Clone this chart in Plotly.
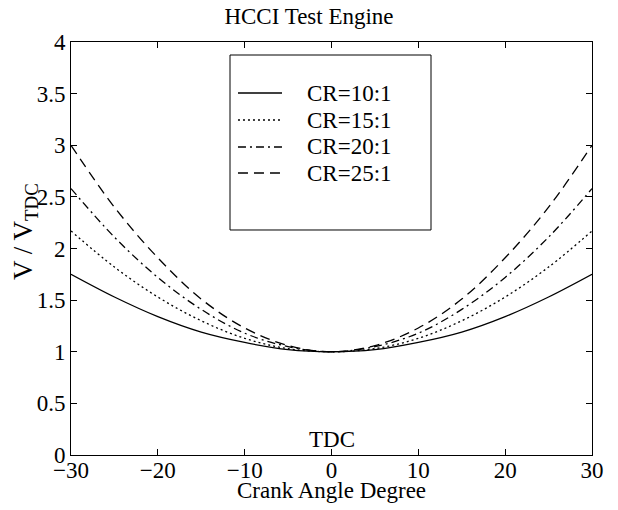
import plotly.graph_objects as go

# Crank angle (degrees relative to TDC)
crank_angle = [-30, -25, -20, -15, -10, -5, 0, 5, 10, 15, 20, 25, 30]

# Cylinder volume normalised by TDC volume, one list per compression ratio
v_cr10 = [1.75, 1.53, 1.34, 1.19, 1.09, 1.02, 1.00, 1.02, 1.09, 1.19, 1.34, 1.53, 1.75]
v_cr15 = [2.17, 1.82, 1.53, 1.30, 1.13, 1.03, 1.00, 1.03, 1.13, 1.30, 1.53, 1.82, 2.17]
v_cr20 = [2.58, 2.11, 1.72, 1.41, 1.18, 1.05, 1.00, 1.05, 1.18, 1.41, 1.72, 2.11, 2.58]
v_cr25 = [3.00, 2.40, 1.91, 1.51, 1.23, 1.06, 1.00, 1.06, 1.23, 1.51, 1.91, 2.40, 3.00]

series_names = ["CR=10:1", "CR=15:1", "CR=20:1", "CR=25:1"]
series_values = [v_cr10, v_cr15, v_cr20, v_cr25]
dash_styles = ["solid", "2px,3px", "8px,4px,2px,4px", "10px,6px"]

x_ticks = [-30, -20, -10, 0, 10, 20, 30]
y_ticks = [0, 0.5, 1, 1.5, 2, 2.5, 3, 3.5, 4]
y_tick_text = ["0", "0.5", "1", "1.5", "2", "2.5", "3", "3.5", "4"]

FONT = "Liberation Serif, Times New Roman, serif"

fig = go.Figure()
for name, vals, dash in zip(series_names, series_values, dash_styles):
    fig.add_trace(go.Scatter(
        x=crank_angle, y=vals, name=name, mode="lines", showlegend=False,
        line=dict(color="black", width=1.3, dash=dash, shape="spline", smoothing=1.0),
    ))

# "TDC" marker text just above the crank-angle axis at 0 degrees
fig.add_annotation(
    x=0, y=0, xref="x", yref="y", text="TDC", showarrow=False,
    yanchor="bottom", yshift=1, font=dict(family=FONT, size=23, color="black"),
)

# x-axis title placed directly under the tick labels
fig.add_annotation(
    x=0.5, y=0, xref="paper", yref="paper", text="Crank Angle Degree",
    showarrow=False, xanchor="center", yanchor="top", yshift=-21,
    font=dict(family=FONT, size=23, color="black"),
)

# y-axis title, rotated, left of the tick labels
fig.add_annotation(
    x=0, y=0.54, xref="paper", yref="paper", text="V / V<sub>TDC</sub>",
    showarrow=False, textangle=-90, xanchor="center", yanchor="middle",
    xshift=-46, font=dict(family=FONT, size=27, color="black"),
)

# Boxed legend: frame, line samples and labels
legend_box = dict(x0=0.3052, x1=0.6910, y0=0.5448, y1=0.9685)
legend_rows = [0.8765, 0.8111, 0.7458, 0.6828]
sample_x = (0.3205, 0.405)
label_x = 0.449

fig.add_shape(
    type="rect", xref="paper", yref="paper", **legend_box,
    line=dict(color="black", width=1), fillcolor="white", layer="below",
)
for name, dash, ry in zip(series_names, dash_styles, legend_rows):
    fig.add_shape(
        type="line", xref="paper", yref="paper",
        x0=sample_x[0], x1=sample_x[1], y0=ry, y1=ry,
        line=dict(color="black", width=1.3, dash=dash),
    )
    fig.add_annotation(
        x=label_x, y=ry, xref="paper", yref="paper", text=name,
        showarrow=False, xanchor="left", yanchor="middle",
        font=dict(family=FONT, size=23, color="black"),
    )

axis_common = dict(
    showline=True, linecolor="black", linewidth=1, mirror="ticks",
    ticks="inside", ticklen=6, tickcolor="black", tickwidth=1,
    showgrid=False, zeroline=False, automargin=False,
    tickfont=dict(family=FONT, size=23, color="black"),
)

fig.update_layout(
    width=618, height=510,
    margin=dict(l=71, r=26, t=42, b=55),
    paper_bgcolor="white", plot_bgcolor="rgba(0,0,0,0)",
    font=dict(family=FONT, color="black"),
    title=dict(
        text="HCCI Test Engine", x=0.5, xanchor="center",
        y=0.968, yanchor="middle",
        font=dict(family=FONT, size=23, color="black"),
    ),
    xaxis=dict(
        range=[-30, 30], tickvals=x_ticks,
        ticktext=[str(v).replace("-", "\u2212") for v in x_ticks],
        ticklabelstandoff=-6,
        **axis_common,
    ),
    yaxis=dict(
        range=[0, 4], tickvals=y_ticks, ticktext=y_tick_text,
        **axis_common,
    ),
    showlegend=False,
)

fig.write_html("out.html")
